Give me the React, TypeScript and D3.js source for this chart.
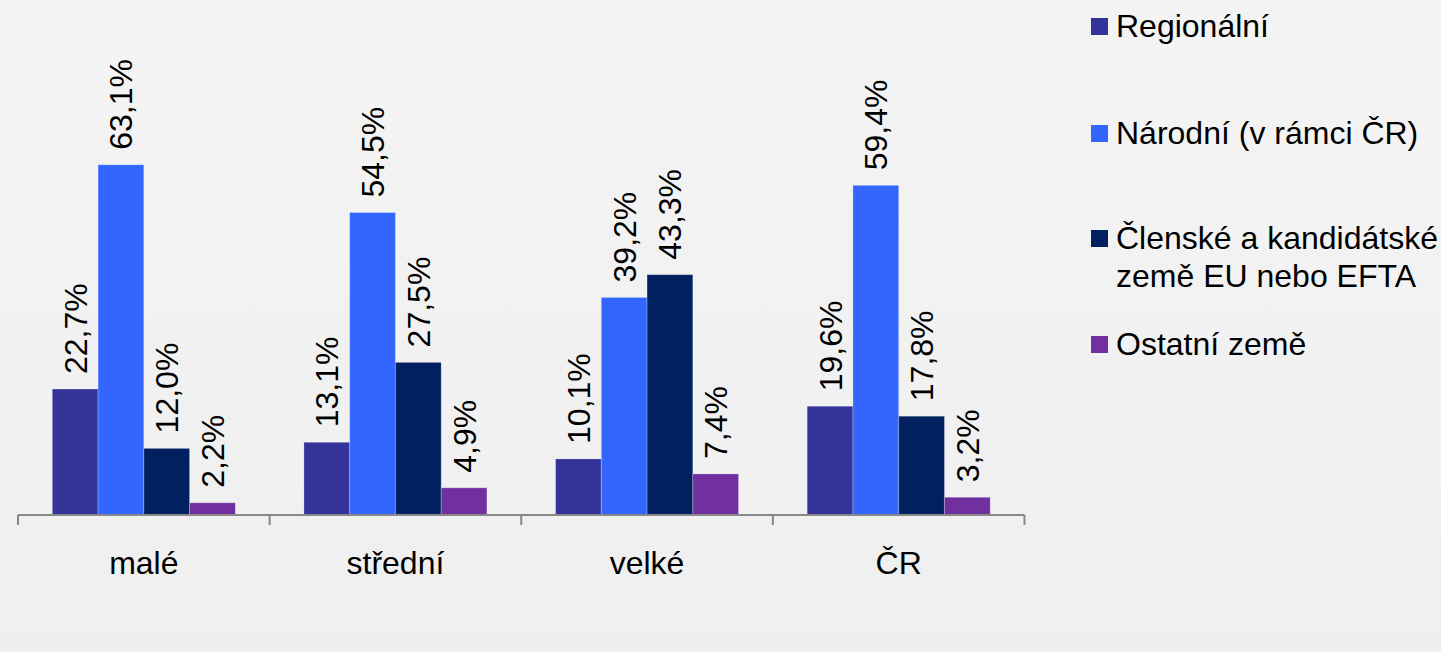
import React from "react";
import * as d3 from "d3";

const categories = ["malé", "střední", "velké", "ČR"];
const seriesNames = ["Regionální", "Národní (v rámci ČR)", "Členské a kandidátské země EU nebo EFTA", "Ostatní země"];
const legendLines = [["Regionální"], ["Národní (v rámci ČR)"], ["Členské a kandidátské", "země EU nebo EFTA"], ["Ostatní země"]];
const colors = ["#333399", "#3366FF", "#002060", "#7030A0"];
const regional = [22.7, 13.1, 10.1, 19.6];
const national = [63.1, 54.5, 39.2, 59.4];
const euEfta = [12.0, 27.5, 43.3, 17.8];
const other = [2.2, 4.9, 7.4, 3.2];
const seriesValues = [regional, national, euEfta, other];

const W = 1441;
const H = 652;
const FONT = "'Liberation Sans', Arial, Helvetica, sans-serif";

export default function App() {
  const x0 = d3.scaleBand<string>().domain(categories).range([18, 1024.5]).padding(0);
  const step = x0.step();
  const x1 = d3
    .scaleBand<number>()
    .domain(d3.range(seriesNames.length))
    .range([(0.75 / 5.5) * step, (4.75 / 5.5) * step])
    .padding(0);
  const y = d3.scaleLinear().domain([0, 70]).range([515, 126.5]);
  const fmt = (v: number) => v.toFixed(1).replace(".", ",") + "%";

  const tickXs = [...categories.map((c) => x0(c) as number), (x0(categories[categories.length - 1]) as number) + step];

  const legendBaselines = [37, 144, 249, 355];

  return (
    <svg width={W} height={H} style={{ position: "absolute", left: 0, top: 0 }} fontFamily={FONT}>
      <defs>
        <linearGradient id="bg" x1="0" y1="0" x2="0" y2="1">
          <stop offset="0" stopColor="#f4f4f4" />
          <stop offset="1" stopColor="#efefef" />
        </linearGradient>
      </defs>
      <rect x={0} y={0} width={W} height={H} fill="url(#bg)" />
      {categories.map((c, ci) => (
        <g key={c} transform={`translate(${x0(c)},0)`}>
          {seriesValues.map((vals, si) => {
            const v = vals[ci];
            const bx = x1(si) as number;
            const bw = x1.bandwidth();
            const top = y(v);
            return (
              <g key={si}>
                <rect x={bx} y={top} width={bw} height={y(0) - top} fill={colors[si]} stroke="#ffffff" strokeOpacity={0.25} strokeWidth={1} />
                <text
                  transform={`translate(${bx + bw / 2},${top - 15}) rotate(-90)`}
                  dy="0.36em"
                  fontSize={32}
                  fill="#000"
                  textAnchor="start"
                >
                  {fmt(v)}
                </text>
              </g>
            );
          })}
          <text x={step / 2} y={574} fontSize={32} textAnchor="middle" fill="#000">
            {c}
          </text>
        </g>
      ))}
      <line x1={18} x2={1024.5} y1={y(0)} y2={y(0)} stroke="#898989" strokeWidth={2} />
      {tickXs.map((tx, i) => (
        <line key={i} x1={tx} x2={tx} y1={y(0)} y2={y(0) + 10} stroke="#898989" strokeWidth={2} />
      ))}
      {legendLines.map((lines, i) => (
        <g key={i}>
          <rect x={1091} y={legendBaselines[i] - 19} width={17} height={17} fill={colors[i]} />
          {lines.map((ln, li) => (
            <text key={li} x={1116} y={legendBaselines[i] + li * 38} fontSize={32} fill="#000">
              {ln}
            </text>
          ))}
        </g>
      ))}
    </svg>
  );
}
